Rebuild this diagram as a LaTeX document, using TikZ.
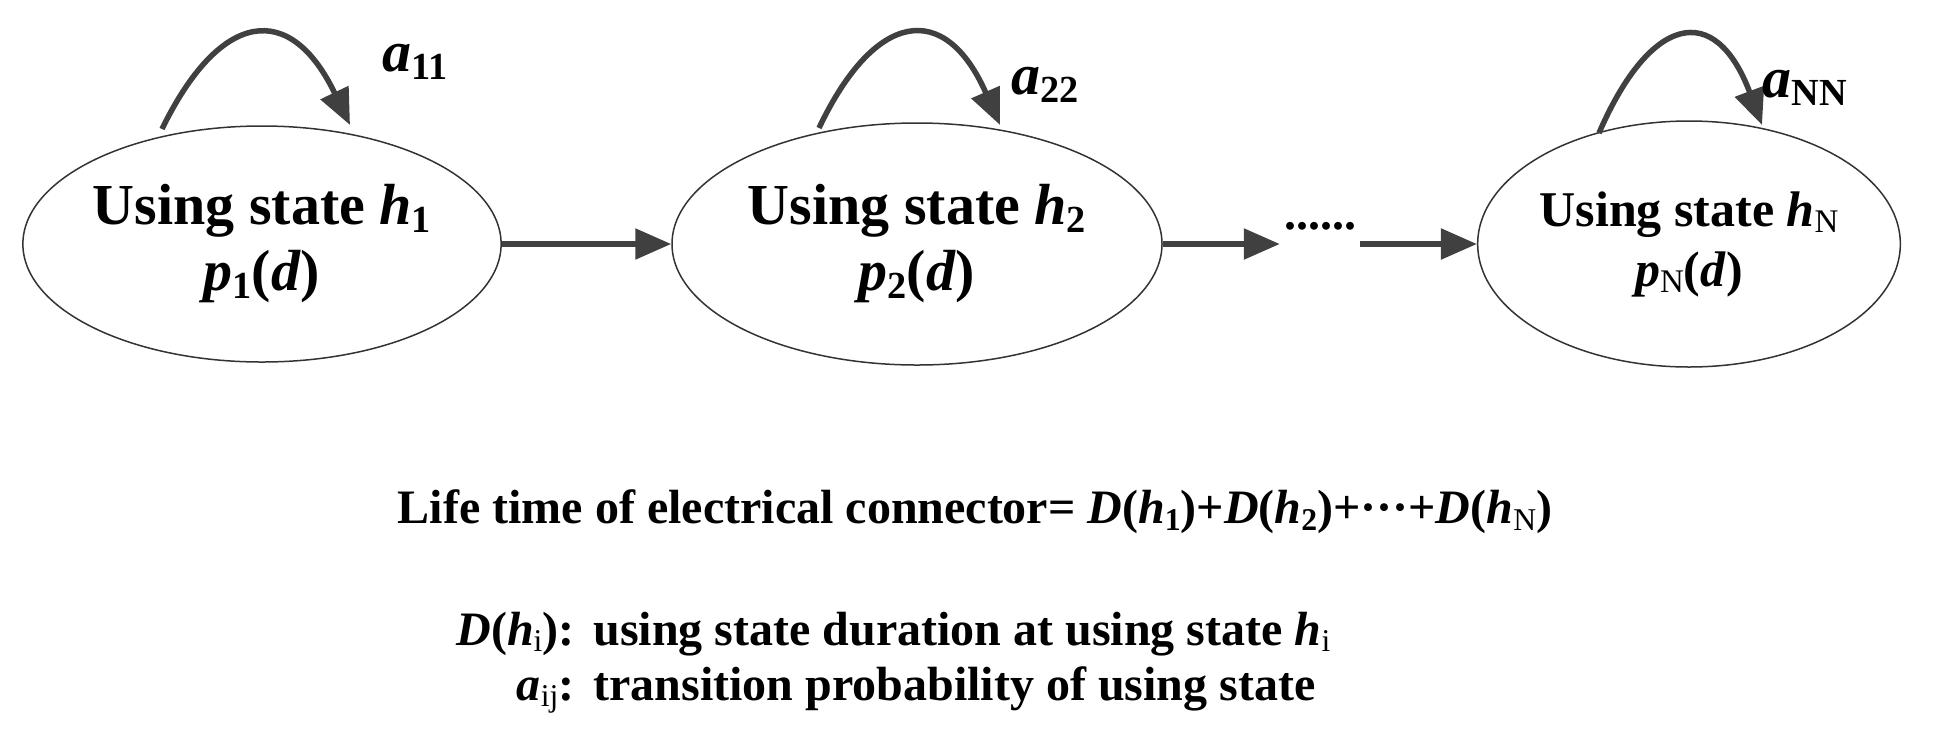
\documentclass[tikz,border=0pt]{standalone}
\usepackage{fontspec}
\setmainfont{Liberation Serif}
\usetikzlibrary{arrows.meta,shapes.geometric}
\newcommand{\sbs}[1]{\raisebox{-0.3ex}{\scalebox{0.66}{#1}}}
\begin{document}
\begin{tikzpicture}[x=1pt,y=-1pt,
  st/.style={draw=black!80,line width=1.5pt,ellipse,inner sep=0pt,align=center},
  ar/.style={draw=black!75,line width=5.5pt,-{Triangle[length=36pt,width=30pt]}},
  lp/.style={draw=black!75,line width=5.5pt,-{Triangle[length=36pt,width=30pt]}},
  txt/.style={font=\bfseries\fontsize{48}{56}\selectfont,align=center}]
\useasboundingbox (0,0) rectangle (1959,740);
\node[st,minimum width=476pt,minimum height=236pt,font=\bfseries\fontsize{58}{66}\selectfont] (s1) at (262,244) {Using state \textit{h}\sbs{1}\\ \textit{p}\sbs{1}(\textit{d})};
\node[st,minimum width=490pt,minimum height=242pt,font=\bfseries\fontsize{58}{66}\selectfont] (s2) at (917,244) {Using state \textit{h}\sbs{2}\\ \textit{p}\sbs{2}(\textit{d})};
\node[st,minimum width=418pt,minimum height=246pt,font=\bfseries\fontsize{50}{60}\selectfont] (sN) at (1689,244) {Using state \textit{h}\sbs{\mdseries N}\\ \textit{p}\sbs{\mdseries N}(\textit{d})};
\node[txt,inner sep=4pt] (dots) at (1320,226) {......};
\draw[ar] (s1.east) -- (s2.west);
\draw[ar] (s2.east) -- (s2.east -| dots.west);
\draw[ar] (sN.west -| dots.east) -- (sN.west);
\coordinate (l1a) at (162,129); \coordinate (l1b) at (350,125);
\draw[lp] (l1a) .. controls (220,10) and (290,0) .. (l1b);
\coordinate (l2a) at (819,128); \coordinate (l2b) at (1000,125);
\draw[lp] (l2a) .. controls (875,10) and (945,0) .. (l2b);
\coordinate (lNa) at (1599,133); \coordinate (lNb) at (1762,125);
\draw[lp] (lNa) .. controls (1650,15) and (1715,0) .. (lNb);
\node[txt,font=\bfseries\fontsize{58}{60}\selectfont] (a1) at (415,62) {\textit{a}\sbs{11}};
\node[txt,font=\bfseries\fontsize{58}{60}\selectfont] (a2) at (1045,85) {\textit{a}\sbs{22}};
\node[txt,font=\bfseries\fontsize{58}{60}\selectfont] (aN) at (1805,88) {\textit{a}\sbs{NN}};
\node[txt,font=\bfseries\fontsize{48}{56}\selectfont] (life) at (975,512) {Life time of electrical connector= \textit{D}(\textit{h}\sbs{1})+\textit{D}(\textit{h}\sbs{2})+\textperiodcentered\textperiodcentered\textperiodcentered+\textit{D}(\textit{h}\sbs{\mdseries N})};
\node[txt,font=\bfseries\fontsize{48}{56}\selectfont,anchor=base east] (d1) at (578,645) {\textit{D}(\textit{h}\sbs{\mdseries i}):};
\node[txt,font=\bfseries\fontsize{48}{56}\selectfont,anchor=base west] (d2) at (590,645) {using state duration at using state \textit{h}\sbs{\mdseries i}};
\node[txt,font=\bfseries\fontsize{48}{56}\selectfont,anchor=base east] (e1) at (578,700) {\textit{a}\sbs{\mdseries ij}:};
\node[txt,font=\bfseries\fontsize{48}{56}\selectfont,anchor=base west] (e2) at (590,700) {transition probability of using state};
\end{tikzpicture}
\end{document}
